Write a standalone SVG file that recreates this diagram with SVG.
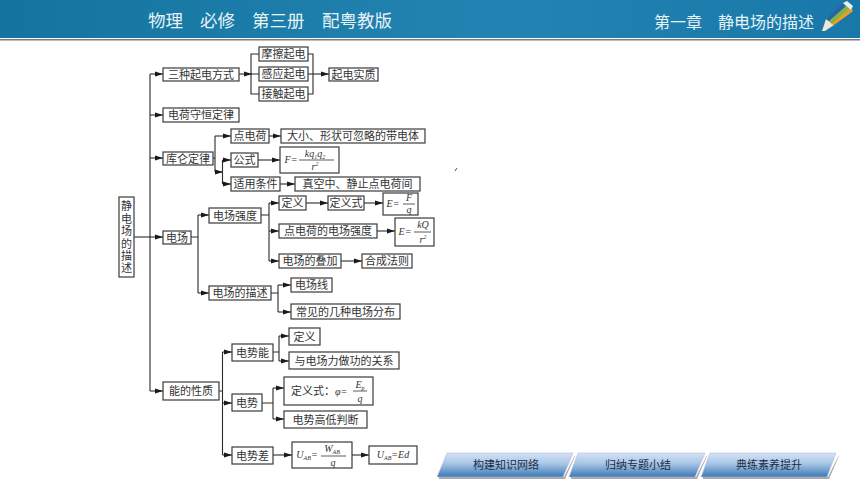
<svg xmlns="http://www.w3.org/2000/svg" width="860" height="484" viewBox="0 0 860 484">
<style>
.b{fill:#fff;stroke:#3a3a3a;stroke-width:1.2}
.t{font-family:"Noto Sans CJK SC","Noto Sans",sans-serif;font-size:11px;fill:#333;text-anchor:middle}
.v{writing-mode:vertical-rl;letter-spacing:1.4px}
.m{font-family:"Liberation Serif",serif;font-style:italic;font-size:10px;fill:#333;text-anchor:middle}
.mi{font-family:"Liberation Serif",serif;font-style:italic;font-size:10px}
.st{text-anchor:start}
.s{font-size:6px}
.fr{stroke:#333;stroke-width:.8;fill:none}
.c path{fill:none;stroke:#2a2a2a;stroke-width:1.1}
.a{marker-end:url(#ar)}
.h{font-family:"Noto Sans CJK SC","Noto Sans",sans-serif;fill:#e8f3f8}
.bt{font-family:"Noto Sans CJK SC","Noto Sans",sans-serif;font-size:11px;fill:#1c2c44;text-anchor:middle}
.btn{fill:url(#bg);stroke:#b9b9ec;stroke-width:.6}
.sh{fill:#a9a9a9}
</style>
<defs>
<marker id="ar" markerUnits="userSpaceOnUse" markerWidth="8" markerHeight="6" refX="8" refY="3" orient="auto"><path d="M0 0.6L8 3L0 5.4Z" fill="#1a1a1a"/></marker>
<linearGradient id="hg" x1="0" y1="0" x2="1" y2="0"><stop offset="0" stop-color="#15749f"/><stop offset=".6" stop-color="#2384b3"/><stop offset="1" stop-color="#1778a9"/></linearGradient>
<linearGradient id="bg" x1="0" y1="0" x2="0" y2="1"><stop offset="0" stop-color="#d5e3f4"/><stop offset=".45" stop-color="#a6c5e6"/><stop offset="1" stop-color="#3a78b5"/></linearGradient>
</defs>
<rect width="860" height="484" fill="#fff"/>
<g id="header">
<rect width="860" height="38" fill="url(#hg)"/>
<rect y="39" width="860" height="1.5" fill="#7d7d7d"/>
<text class="h" x="148" y="27" font-size="17.5">物理</text>
<text class="h" x="200" y="27" font-size="17.5">必修</text>
<text class="h" x="252" y="27" font-size="17.5">第三册</text>
<text class="h" x="322" y="27" font-size="17.5">配粤教版</text>
<text class="h" x="654" y="28" font-size="16">第一章</text>
<text class="h" x="718" y="28" font-size="16">静电场的描述</text>
<g id="pencil">
<polygon points="822,31 826,19 834,25 825,31" fill="#efe8d8"/>
<polygon points="826,19 845,3 853,11 834,25" fill="#7ab648"/>
<polygon points="826,19 843,3 846,6 829,21" fill="#2a62a8"/>
<polygon points="831,24 850,8 853,11 834,25" fill="#e89a2a"/>
<polygon points="843,3 847,1 853,6 851,10" fill="#e9eef2"/>
</g>
</g>
<g class="c" id="connectors">
<path d="M150 74V391"/>
<path class="a" d="M150 74H163"/><path class="a" d="M150 115H163"/><path class="a" d="M150 158H163"/><path class="a" d="M134 237H163"/><path class="a" d="M150 391H163"/>
<path class="a" d="M239 74H252"/><path d="M259 54H251V94H259M251 74H259"/><path d="M308 54H313V94H308"/><path class="a" d="M308 74H329"/>
<path d="M213 158H215"/><path d="M215 172V136"/><path class="a" d="M215 136H231"/><path class="a" d="M215 172H223"/><path d="M222.500 160V184"/><path class="a" d="M222.500 160H231"/><path class="a" d="M222.500 184H231"/>
<path class="a" d="M269 136H281"/><path class="a" d="M258 160H280"/><path class="a" d="M280 184H295"/>
<path d="M191 237H198M198 215V293"/><path class="a" d="M198 215H209"/><path class="a" d="M198 293H209"/>
<path d="M261 215H269M269 203V261"/><path class="a" d="M269 203H279"/><path class="a" d="M269 231H279"/><path class="a" d="M269 261H279"/>
<path class="a" d="M306 203H328"/><path class="a" d="M364 203H383"/><path class="a" d="M377 231H395"/><path class="a" d="M341 261H362"/>
<path d="M271 293H278M278 285V312"/><path class="a" d="M278 285H291"/><path class="a" d="M278 312H291"/>
<path d="M219 391H222.500M222.500 352V455"/><path class="a" d="M222.500 352H232"/><path class="a" d="M222.500 403H232"/><path class="a" d="M222.500 455H232"/>
<path d="M273 352H279M279 336V361"/><path class="a" d="M279 336H289"/><path class="a" d="M279 361H289"/>
<path d="M262 403H273M273 388V419"/><path class="a" d="M273 388H284"/><path class="a" d="M273 419H284"/>
<path class="a" d="M273 455H292"/><path class="a" d="M352 455H369"/>
</g>
<g id="root"><rect class="b" x="119" y="197" width="15" height="80"/>
<text class="t v" x="126.500" y="238">静电场的描述</text></g>
<g id="n1"><rect class="b" x="163" y="68" width="76" height="13"/><text class="t" x="201" y="78.500">三种起电方式</text></g>
<g id="n2"><rect class="b" x="259" y="47" width="49" height="14"/><text class="t" x="283.500" y="58">摩擦起电</text></g>
<g id="n3"><rect class="b" x="259" y="67" width="49" height="14"/><text class="t" x="283.500" y="78">感应起电</text></g>
<g id="n4"><rect class="b" x="259" y="87" width="49" height="14"/><text class="t" x="283.500" y="98">接触起电</text></g>
<g id="n5"><rect class="b" x="329" y="68" width="49" height="13"/><text class="t" x="353.500" y="78.500">起电实质</text></g>
<g id="n6"><rect class="b" x="163" y="108" width="76" height="14"/><text class="t" x="201" y="119">电荷守恒定律</text></g>
<g id="n7"><rect class="b" x="163" y="152" width="50" height="13"/><text class="t" x="188" y="162.500">库仑定律</text></g>
<g id="n8"><rect class="b" x="231" y="129" width="38" height="14"/><text class="t" x="250" y="140">点电荷</text></g>
<g id="n9"><rect class="b" x="281" y="129" width="144" height="14"/><text class="t" x="353" y="140">大小、形状可忽略的带电体</text></g>
<g id="n10"><rect class="b" x="231" y="153" width="27" height="14"/><text class="t" x="244.500" y="164">公式</text></g>
<g id="n11"><rect class="b" x="280" y="147" width="59" height="26"/>
<text class="m" x="291" y="163">F=</text><text class="m" x="315" y="157">kq<tspan class="s" dy="2">1</tspan><tspan dy="-2">q</tspan><tspan class="s" dy="2">2</tspan></text><path class="fr" d="M299 160H334"/><text class="m" x="315" y="170">r<tspan class="s" dy="-4">2</tspan></text></g>
<g id="n12"><rect class="b" x="231" y="177" width="49" height="14"/><text class="t" x="255.500" y="188">适用条件</text></g>
<g id="n13"><rect class="b" x="295" y="177" width="125" height="14"/><text class="t" x="357.500" y="188">真空中、静止点电荷间</text></g>
<g id="n14"><rect class="b" x="163" y="231" width="28" height="13"/><text class="t" x="177" y="241.500">电场</text></g>
<g id="n15"><rect class="b" x="209" y="208" width="52" height="15"/><text class="t" x="235" y="219.500">电场强度</text></g>
<g id="n16"><rect class="b" x="279" y="196" width="27" height="14"/><text class="t" x="292.500" y="207">定义</text></g>
<g id="n17"><rect class="b" x="328" y="196" width="36" height="14"/><text class="t" x="346" y="207">定义式</text></g>
<g id="n18"><rect class="b" x="383" y="193" width="35" height="22"/>
<text class="m" x="393" y="207">E=</text><text class="m" x="409" y="201">F</text><path class="fr" d="M403 204H415"/><text class="m" x="409" y="213">q</text></g>
<g id="n19"><rect class="b" x="279" y="224" width="98" height="14"/><text class="t" x="328" y="235">点电荷的电场强度</text></g>
<g id="n20"><rect class="b" x="395" y="218" width="39" height="28"/>
<text class="m" x="405" y="235">E=</text><text class="m" x="423" y="228">kQ</text><path class="fr" d="M414 232H431"/><text class="m" x="423" y="243">r<tspan class="s" dy="-4">2</tspan></text></g>
<g id="n21"><rect class="b" x="279" y="254" width="62" height="14"/><text class="t" x="310" y="265">电场的叠加</text></g>
<g id="n22"><rect class="b" x="362" y="254" width="50" height="14"/><text class="t" x="387" y="265">合成法则</text></g>
<g id="n23"><rect class="b" x="209" y="286" width="62" height="14"/><text class="t" x="240" y="297">电场的描述</text></g>
<g id="n24"><rect class="b" x="291" y="278" width="41" height="14"/><text class="t" x="311.500" y="289">电场线</text></g>
<g id="n25"><rect class="b" x="291" y="304" width="109" height="15"/><text class="t" x="345.500" y="315.500">常见的几种电场分布</text></g>
<g id="n26"><rect class="b" x="163" y="382" width="56" height="18"/><text class="t" x="191" y="395">能的性质</text></g>
<g id="n27"><rect class="b" x="232" y="344" width="41" height="17"/><text class="t" x="252.500" y="356.500">电势能</text></g>
<g id="n28"><rect class="b" x="289" y="328" width="31" height="17"/><text class="t" x="304.500" y="340.500">定义</text></g>
<g id="n29"><rect class="b" x="289" y="352" width="110" height="17"/><text class="t" x="344" y="364.500">与电场力做功的关系</text></g>
<g id="n30"><rect class="b" x="232" y="394" width="30" height="17"/><text class="t" x="247" y="406.500">电势</text></g>
<g id="n31"><rect class="b" x="284" y="377" width="89" height="28"/>
<text class="t st" x="291" y="395">定义式：<tspan class="mi">φ=</tspan></text><text class="m" x="360" y="388">E<tspan class="s" dy="2">p</tspan></text><path class="fr" d="M353 391H367"/><text class="m" x="360" y="402">q</text></g>
<g id="n32"><rect class="b" x="284" y="411" width="83" height="17"/><text class="t" x="325.500" y="423.500">电势高低判断</text></g>
<g id="n33"><rect class="b" x="232" y="447" width="41" height="17"/><text class="t" x="252.500" y="459.500">电势差</text></g>
<g id="n34"><rect class="b" x="292" y="442" width="60" height="26"/>
<text class="m" x="307" y="458">U<tspan class="s" dy="2">AB</tspan><tspan dy="-2">=</tspan></text><text class="m" x="332" y="452">W<tspan class="s" dy="2">AB</tspan></text><path class="fr" d="M321 456H346"/><text class="m" x="333" y="466">q</text></g>
<g id="n35"><rect class="b" x="369" y="446" width="48" height="18"/><text class="m" x="393" y="458">U<tspan class="s" dy="2">AB</tspan><tspan dy="-2">=Ed</tspan></text></g>
<g id="b1"><polygon class="sh" points="439,479 565,479 575,456 575,455 564,477 439,477"/><polygon class="btn" points="447,453 573,453 563,477 437,477"/><text class="bt" x="506" y="469">构建知识网络</text></g>
<g id="b2"><polygon class="sh" points="571,479 697,479 707,456 707,455 696,477 571,477"/><polygon class="btn" points="578,453 705,453 695,477 569,477"/><text class="bt" x="638" y="469">归纳专题小结</text></g>
<g id="b3"><polygon class="sh" points="703,479 829,479 839,456 839,455 828,477 703,477"/><polygon class="btn" points="710,453 836,453 827,477 701,477"/><text class="bt" x="769" y="469">典练素养提升</text></g>
<path d="M455 171L457 168" stroke="#555" stroke-width="1" fill="none"/>
</svg>
